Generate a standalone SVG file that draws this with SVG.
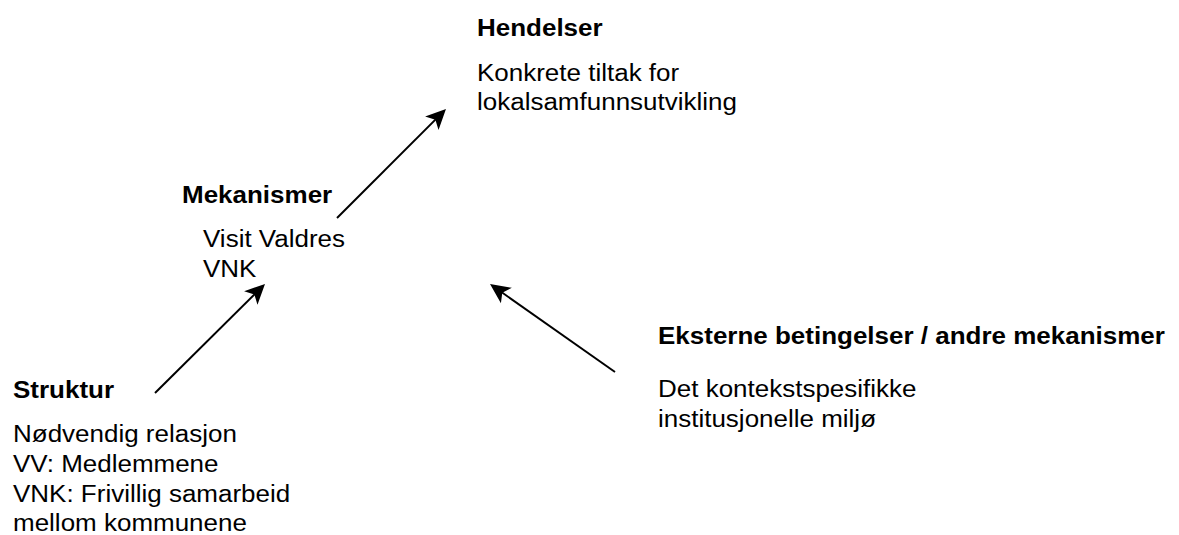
<svg xmlns="http://www.w3.org/2000/svg" width="1179" height="535" viewBox="0 0 1179 535">
<style>
text { font-family: "Liberation Sans", Arial, sans-serif; font-size: 23px; fill: #000; }
.b { font-weight: bold; }
.c { stroke: #000; stroke-width: 2; fill: none; }
</style>
<defs>
<marker id="ah" markerUnits="userSpaceOnUse" viewBox="-15 -15 30 30" markerWidth="30" markerHeight="30" refX="0" refY="0" orient="auto">
<path d="M10,0 L-10,-9.5 L-5,0 L-10,9.5 Z" fill="#000"/>
</marker>
</defs>
<rect width="1179" height="535" fill="#fff"/>
<g id="connectors">
<line class="c" x1="337" y1="218" x2="438.9" y2="116.1" marker-end="url(#ah)"/>
<line class="c" x1="155" y1="393" x2="257.9" y2="291" marker-end="url(#ah)"/>
<line class="c" x1="615" y1="372" x2="498.2" y2="289.8" marker-end="url(#ah)"/>
</g>
<g id="hendelser" transform="translate(477,0) scale(1.13,1)">
<text class="b" x="0" y="36">Hendelser</text>
<text x="0" y="81">Konkrete tiltak for</text>
<text x="0" y="110.5">lokalsamfunnsutvikling</text>
</g>
<g id="mekanismer" transform="translate(182,0) scale(1.13,1)">
<text class="b" x="0" y="202.7">Mekanismer</text>
<text x="18.6" y="246.7">Visit Valdres</text>
<text x="18.6" y="277">VNK</text>
</g>
<g id="struktur" transform="translate(13,0) scale(1.13,1)">
<text class="b" x="0" y="398.3">Struktur</text>
<text x="0" y="441.7">Nødvendig relasjon</text>
<text x="0" y="471.7">VV: Medlemmene</text>
<text x="0" y="501.7">VNK: Frivillig samarbeid</text>
<text x="0" y="530.7">mellom kommunene</text>
</g>
<g id="eksterne" transform="translate(658,0) scale(1.13,1)">
<text class="b" x="0" y="344">Eksterne betingelser / andre mekanismer</text>
<text x="0" y="397.3">Det kontekstspesifikke</text>
<text x="0" y="426.7">institusjonelle miljø</text>
</g>
</svg>
